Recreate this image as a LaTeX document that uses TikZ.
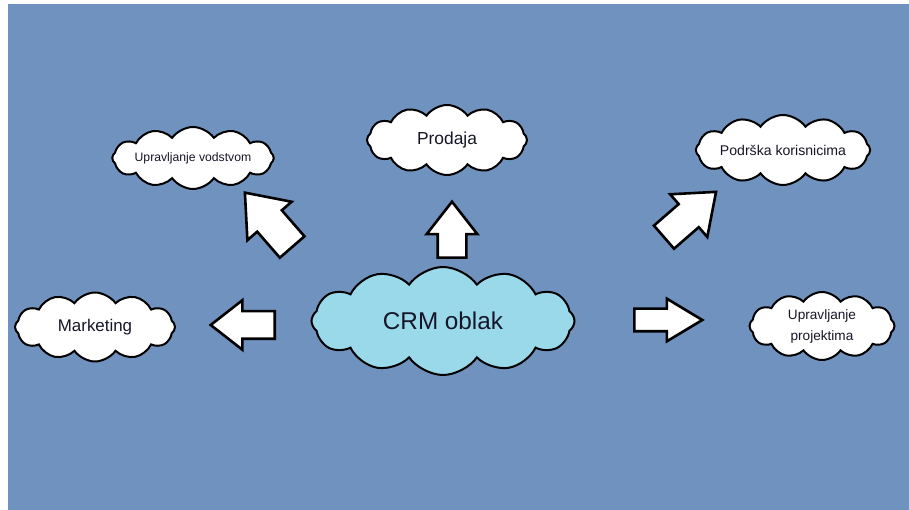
\documentclass[tikz,border=0pt]{standalone}
\usepackage{fontspec}
\setmainfont{Liberation Sans}
\usetikzlibrary{shapes.symbols,shapes.arrows}

\definecolor{skyblue}{RGB}{112,146,190}
\definecolor{cloudcyan}{RGB}{153,217,234}
\definecolor{inkdark}{RGB}{22,22,40}

\tikzset{
  oblak/.style={cloud, cloud puffs=12, cloud puff arc=110, cloud ignores aspect, draw=black, line width=2pt,
    fill=white, text=inkdark, inner sep=0pt, align=center},
  strelica/.style={single arrow, draw=black, line width=2.6pt, fill=white,
    single arrow tip angle=76, inner sep=0pt, anchor=tail}
}

\begin{document}
\begin{tikzpicture}[x=1pt,y=1pt]
				\useasboundingbox (0,0) rectangle (909,510);
				\fill[skyblue] (8,0) rectangle (909,506);

				% clouds
				\node[oblak, fill=cloudcyan, minimum width=263, minimum height=108, font=\fontsize{24.3}{28}\selectfont] (crm) at (443,189) {CRM oblak};
				\node[oblak, minimum width=160, minimum height=62, font=\fontsize{12.2}{14}\selectfont] (vodstvo) at (193,352) {Upravljanje vodstvom};
				\node[oblak, minimum width=160, minimum height=70, font=\fontsize{17.4}{20}\selectfont] (prodaja) at (447,370) {Prodaja};
				\node[oblak, minimum width=159, minimum height=70, font=\fontsize{14.1}{16}\selectfont] (podrska) at (783,360) {Podrška korisnicima};
				\node[oblak, minimum width=160, minimum height=69, font=\fontsize{16.9}{20}\selectfont] (marketing) at (95,183) {Marketing};
				\node[oblak, minimum width=145, minimum height=68, font=\fontsize{13.6}{21}\selectfont] (projekti) at (822,184) {Upravljanje\\projektima};

				% arrows, placed by their tails
				\node[strelica, minimum height=56, minimum width=48, single arrow head extend=11, inner ysep=13, rotate=90] (sgore) at (452,251) {};
				\node[strelica, minimum height=64, minimum width=47, single arrow head extend=11, inner ysep=12.5, rotate=180] (slijevo) at (276,185) {};
				\node[strelica, minimum height=68, minimum width=40, single arrow head extend=10, inner ysep=10, single arrow tip angle=62] (sdesno) at (633,190) {};
				\node[strelica, minimum height=69, minimum width=54, single arrow head extend=13, inner ysep=14, rotate=41] (sgoredesno) at (663,272) {};
				\node[strelica, minimum height=72, minimum width=56, single arrow head extend=13, inner ysep=15, rotate=131] (sgorelijevo) at (293,262) {};
\end{tikzpicture}
\end{document}
